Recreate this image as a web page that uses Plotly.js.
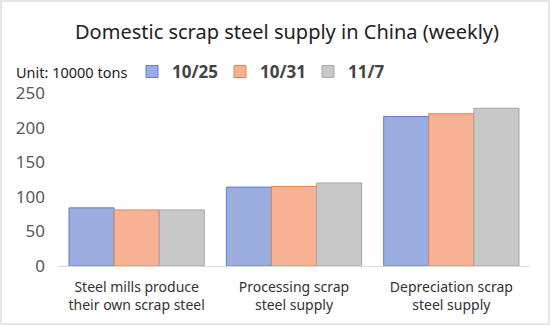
<!DOCTYPE html>
<html><head><meta charset="utf-8">
<script src="https://cdn.plot.ly/plotly-3.0.1.min.js"></script>
<style>html,body{margin:0;padding:0;background:#fff}#c{width:550px;height:325px}</style>
</head><body><div id="c"></div>
<script>
const categories = ["Steel mills produce<br>their own scrap steel", "Processing scrap<br>steel supply", "Depreciation scrap<br>steel supply"];
const seriesNames = ["10/25", "10/31", "11/7"];
const v1025 = [84, 114, 216];
const v1031 = [81, 115, 220];
const v117  = [81, 120, 228];
const yTicks = [0, 50, 100, 150, 200, 250];

const fills = ["#9badde", "#f7b193", "#c8c8c8"];
const lines = ["#5b7fcf", "#e9834f", "#a6a6a6"];
const vals = [v1025, v1031, v117];

const traces = seriesNames.map((n, i) => ({
  type: "bar", name: n, x: categories, y: vals[i],
  marker: {color: fills[i], line: {color: lines[i], width: 1}}
}));

const W = 550, H = 325, L = 58, R = 20, T = 93, B = 59;
const pw = W - L - R, ph = H - T - B;

const layout = {
  width: W, height: H,
  margin: {l: L, r: R, t: T, b: B},
  paper_bgcolor: "#fff", plot_bgcolor: "#fff",
  font: {family: "Noto Sans, Open Sans, sans-serif", color: "#333"},
  title: {text: "Domestic scrap steel supply in China (weekly)", font: {size: 20, color: "#222"}, x: 287 / W, xanchor: "center", y: 1 - 32 / H, yanchor: "middle"},
  barmode: "group", bargap: 0.14, bargroupgap: 0,
  showlegend: true,
  legend: {orientation: "h", x: (132 - L) / pw, xanchor: "left", y: (H - B - 72) / ph, yanchor: "middle",
           font: {size: 17, color: "#444", weight: "bold"}, itemwidth: 30, entrywidth: 43, traceorder: "normal", bgcolor: "rgba(0,0,0,0)"},
  xaxis: {tickfont: {size: 14, color: "#333"}, showline: true, linecolor: "#d9d9d9", linewidth: 1, ticks: "", showgrid: false, zeroline: false, ticklabelstandoff: 8},
  yaxis: {range: [0, 250], tickvals: yTicks, tickfont: {size: 17, color: "#595959"}, showgrid: false, zeroline: false, showline: false, ticks: "", ticklen: 0, ticklabelstandoff: 12},
  annotations: [{text: "Unit: 10000 tons", xref: "paper", yref: "paper", x: (14 - L) / pw, y: (H - B - 72) / ph, xanchor: "left", yanchor: "middle", showarrow: false, font: {size: 14.5, color: "#222"}}],
  shapes: [{type: "rect", xref: "paper", yref: "paper", x0: (1 - L) / pw, x1: (W - 1 - L) / pw, y0: -(B - 1) / ph, y1: (H - B - 1) / ph, line: {color: "#e6e6e6", width: 2}, layer: "below"}]
};
Plotly.newPlot("c", traces, layout, {displayModeBar: false, staticPlot: true});
</script></body></html>
